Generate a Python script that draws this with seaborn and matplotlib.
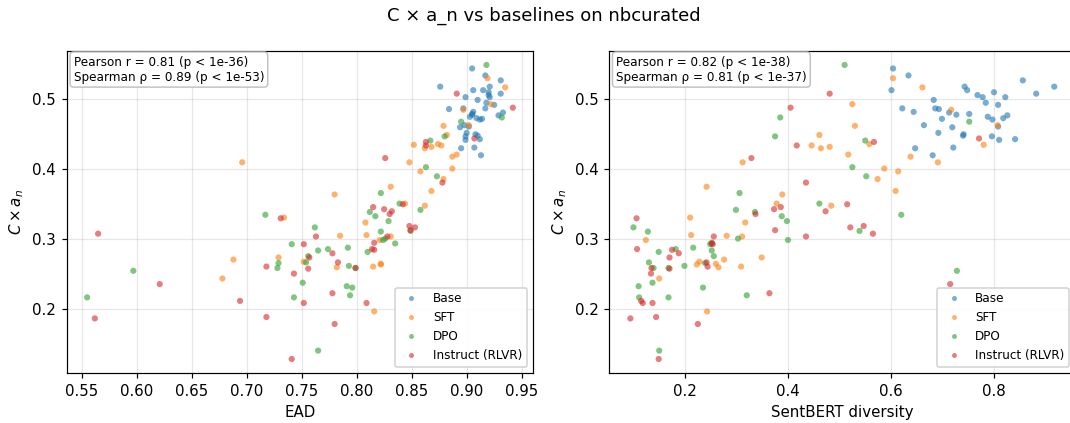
import numpy as np
import pandas as pd
import matplotlib
matplotlib.use("Agg")
import matplotlib.pyplot as plt
import seaborn as sns

# C x a_n per model, with EAD and SentBERT diversity
base_y = [0.544, 0.534, 0.527, 0.518, 0.518, 0.513, 0.513, 0.510, 0.508, 0.506, 0.503, 0.503, 0.499,
          0.495, 0.492, 0.487, 0.487, 0.486, 0.482, 0.481, 0.479, 0.478, 0.477, 0.475, 0.473, 0.472,
          0.471, 0.463, 0.461, 0.460, 0.452, 0.450, 0.448, 0.447, 0.443, 0.442, 0.431, 0.430, 0.420]
base_ead = [0.905, 0.917, 0.931, 0.876, 0.921, 0.906, 0.915, 0.920, 0.931, 0.920, 0.899, 0.921, 0.910,
            0.918, 0.925, 0.917, 0.897, 0.884, 0.906, 0.933, 0.905, 0.905, 0.929, 0.903, 0.909, 0.914,
            0.912, 0.898, 0.902, 0.894, 0.900, 0.908, 0.910, 0.899, 0.912, 0.899, 0.907, 0.895, 0.913]
base_sbert = [0.604, 0.634, 0.856, 0.743, 0.917, 0.601, 0.748, 0.800, 0.882, 0.768, 0.778, 0.822, 0.683,
              0.784, 0.808, 0.622, 0.686, 0.693, 0.644, 0.713, 0.752, 0.727, 0.826, 0.788, 0.818, 0.699,
              0.797, 0.664, 0.808, 0.719, 0.692, 0.741, 0.740, 0.796, 0.841, 0.810, 0.721, 0.647, 0.681]

sft_y = [0.530, 0.517, 0.493, 0.485, 0.463, 0.462, 0.449, 0.436, 0.435, 0.434, 0.432, 0.430, 0.421,
         0.418, 0.410, 0.410, 0.401, 0.397, 0.386, 0.375, 0.369, 0.364, 0.351, 0.348, 0.331, 0.324,
         0.306, 0.305, 0.304, 0.299, 0.274, 0.271, 0.268, 0.265, 0.264, 0.261, 0.260, 0.244, 0.197]
sft_ead = [0.919, 0.935, 0.922, 0.897, 0.902, 0.879, 0.882, 0.874, 0.852, 0.877, 0.868, 0.862, 0.891,
           0.887, 0.848, 0.696, 0.887, 0.858, 0.879, 0.831, 0.868, 0.780, 0.844, 0.862, 0.734, 0.808,
           0.809, 0.785, 0.831, 0.821, 0.729, 0.688, 0.752, 0.822, 0.822, 0.815, 0.782, 0.678, 0.816]
sft_sbert = [0.604, 0.661, 0.525, 0.717, 0.807, 0.530, 0.461, 0.558, 0.780, 0.446, 0.481, 0.464, 0.517,
             0.638, 0.312, 0.691, 0.587, 0.614, 0.574, 0.242, 0.609, 0.389, 0.378, 0.484, 0.210, 0.317,
             0.212, 0.281, 0.311, 0.124, 0.349, 0.276, 0.228, 0.260, 0.223, 0.309, 0.265, 0.150, 0.243]

dpo_y = [0.549, 0.474, 0.468, 0.447, 0.441, 0.403, 0.390, 0.366, 0.351, 0.342, 0.339, 0.335, 0.333,
         0.326, 0.317, 0.312, 0.311, 0.301, 0.299, 0.294, 0.293, 0.288, 0.286, 0.284, 0.282, 0.276,
         0.267, 0.266, 0.262, 0.259, 0.259, 0.255, 0.238, 0.233, 0.231, 0.220, 0.217, 0.217, 0.141]
dpo_ead = [0.918, 0.932, 0.895, 0.880, 0.867, 0.863, 0.873, 0.822, 0.839, 0.858, 0.812, 0.717, 0.817,
           0.829, 0.762, 0.849, 0.822, 0.826, 0.824, 0.835, 0.741, 0.792, 0.774, 0.765, 0.810, 0.756,
           0.754, 0.729, 0.793, 0.728, 0.799, 0.597, 0.751, 0.791, 0.796, 0.794, 0.555, 0.743, 0.765]
dpo_sbert = [0.510, 0.385, 0.752, 0.375, 0.550, 0.525, 0.552, 0.306, 0.461, 0.299, 0.336, 0.620, 0.388,
             0.398, 0.100, 0.539, 0.128, 0.303, 0.400, 0.252, 0.249, 0.216, 0.182, 0.252, 0.149, 0.256,
             0.130, 0.239, 0.199, 0.139, 0.168, 0.728, 0.137, 0.110, 0.235, 0.320, 0.111, 0.168, 0.150]

ins_y = [0.508, 0.488, 0.444, 0.439, 0.434, 0.416, 0.381, 0.350, 0.346, 0.343, 0.340, 0.336, 0.330,
         0.319, 0.317, 0.313, 0.308, 0.304, 0.304, 0.295, 0.293, 0.286, 0.285, 0.280, 0.274, 0.267,
         0.261, 0.259, 0.258, 0.251, 0.236, 0.223, 0.212, 0.209, 0.209, 0.189, 0.187, 0.179, 0.129]
ins_ead = [0.891, 0.942, 0.907, 0.863, 0.863, 0.826, 0.878, 0.842, 0.815, 0.825, 0.832, 0.830, 0.731,
           0.848, 0.853, 0.849, 0.565, 0.763, 0.828, 0.816, 0.752, 0.814, 0.816, 0.778, 0.757, 0.783,
           0.718, 0.799, 0.756, 0.743, 0.621, 0.778, 0.694, 0.752, 0.809, 0.718, 0.562, 0.780, 0.741]
ins_sbert = [0.481, 0.405, 0.771, 0.567, 0.417, 0.329, 0.435, 0.515, 0.386, 0.373, 0.473, 0.337, 0.106,
             0.547, 0.521, 0.375, 0.565, 0.435, 0.256, 0.252, 0.254, 0.107, 0.175, 0.188, 0.170, 0.242,
             0.244, 0.135, 0.170, 0.134, 0.715, 0.364, 0.115, 0.137, 0.118, 0.144, 0.094, 0.225, 0.149]

group_order = ["Base", "SFT", "DPO", "Instruct (RLVR)"]
stats_text = ["Pearson r = 0.81 (p < 1e-36)\nSpearman ρ = 0.89 (p < 1e-53)",
              "Pearson r = 0.82 (p < 1e-38)\nSpearman ρ = 0.81 (p < 1e-37)"]

frames = []
for name, y, ead, sb in [("Base", base_y, base_ead, base_sbert),
                         ("SFT", sft_y, sft_ead, sft_sbert),
                         ("DPO", dpo_y, dpo_ead, dpo_sbert),
                         ("Instruct (RLVR)", ins_y, ins_ead, ins_sbert)]:
    frames.append(pd.DataFrame({"Model": name, "score": y, "EAD": ead, "SentBERT diversity": sb}))
df = pd.concat(frames, ignore_index=True)

palette = sns.color_palette("tab10")[:4]

dpi = 108
fig = plt.figure(figsize=(1070 / dpi, 423 / dpi), dpi=dpi)
ax1 = fig.add_axes([0.0623, 0.1175, 0.4358, 0.7627])
ax2 = fig.add_axes([0.5692, 0.1175, 0.4358, 0.7627])

for ax, xcol, txt in [(ax1, "EAD", stats_text[0]), (ax2, "SentBERT diversity", stats_text[1])]:
    sns.scatterplot(data=df, x=xcol, y="score", hue="Model", hue_order=group_order,
                    palette=palette, s=17, alpha=0.6, linewidth=0, ax=ax)
    ax.grid(True, alpha=0.3)
    ax.set_axisbelow(True)
    ax.set_xlabel(xcol, fontsize=10)
    ax.set_ylabel(r"$C \times a_n$", fontsize=10)
    ax.tick_params(labelsize=10)
    ax.text(0.015, 0.985, txt, transform=ax.transAxes, va="top", ha="left", fontsize=8,
            bbox=dict(boxstyle="round,pad=0.3", facecolor="white", edgecolor="#bbbbbb", alpha=0.9))
    ax.legend(loc="lower right", fontsize=8, markerscale=0.8, framealpha=0.9)
    ax.set_ylim(0.1086, 0.5694)

ax1.set_xlim(0.5364, 0.9603)
ax2.set_xlim(0.0526, 0.958)

fig.suptitle("C × a_n vs baselines on nbcurated", fontsize=12, x=0.508, y=0.985)
fig.savefig("out.png", dpi=dpi)
